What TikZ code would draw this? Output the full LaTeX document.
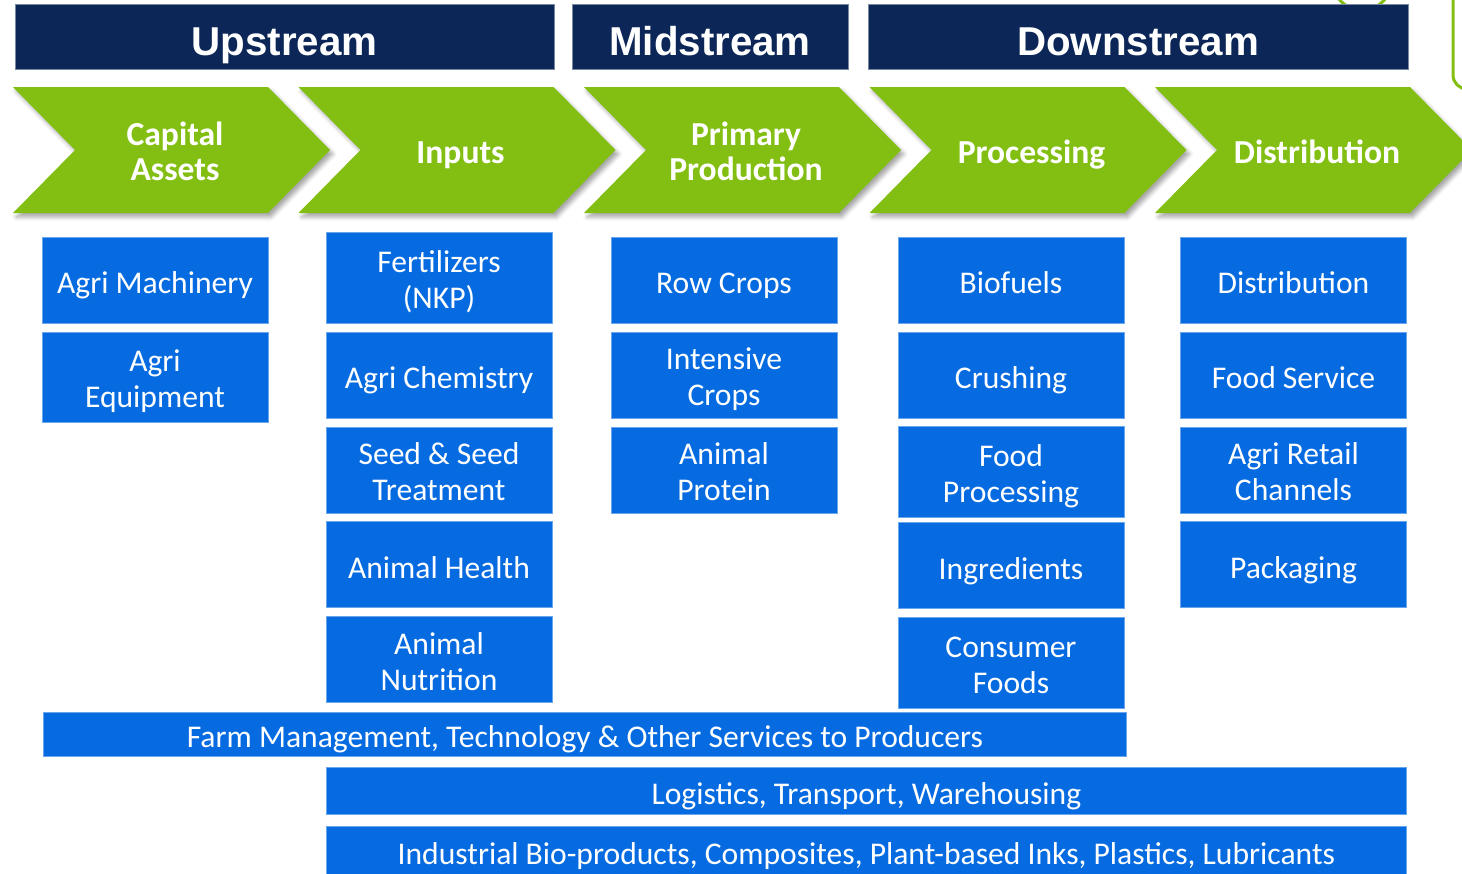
\documentclass[tikz,border=0pt]{standalone}
\usepackage{fontspec}
\setmainfont{Carlito}
\newfontfamily\headfont{Liberation Sans}
\usetikzlibrary{positioning,shadows.blur}

\definecolor{navy}{HTML}{0C2657}
\definecolor{leaf}{HTML}{82BF12}
\definecolor{boxblue}{HTML}{066BE1}
\definecolor{boxedge}{HTML}{6AA6EE}

% fixed line heights, so every box sets its text the same way
\newcommand\itemstrut{\rule[-8pt]{0pt}{42.5pt}}
\newcommand\chevstrut{\rule[-10pt]{0pt}{47.5pt}}
\newcommand\stagestrut{\rule[-10pt]{0pt}{57pt}}
% two-line labels
\newcommand\pairtext[2]{\begin{tabular}{@{}c@{}}\rule{0pt}{35.8pt}#1\\#2\end{tabular}}
\newcommand\chevtext[2]{\begin{tabular}{@{}c@{}}\rule{0pt}{37pt}#1\\#2\end{tabular}}

\tikzset{
  stage/.style={fill=navy, draw=navy!55!white, line width=0.8pt, text=white,
    font=\headfont\bfseries\fontsize{40.3}{44}\selectfont, minimum height=65pt, inner sep=0pt,
    execute at begin node=\stagestrut},
  chev/.style={fill=leaf, blur shadow={shadow xshift=3pt, shadow yshift=-4pt,
    shadow blur radius=4pt, shadow opacity=35}},
  chevlabel/.style={text=white, font=\bfseries\fontsize{33.6}{35}\selectfont, inner sep=0pt,
    execute at begin node=\chevstrut},
  item/.style={fill=boxblue, draw=boxedge, line width=0.8pt, text=white,
    font=\fontsize{31.6}{36}\selectfont,
    minimum width=226pt, minimum height=86pt, inner sep=0pt,
    execute at begin node=\itemstrut},
  bar/.style={item, minimum width=0pt}
}

\begin{document}
\begin{tikzpicture}[x=1pt,y=-1pt,node distance=8pt]
  \clip (0,0) rectangle (1462,873);

  % bits of green outline cut off at the top right
  \draw[leaf, line width=3pt] (1362,-20) circle (30pt);
  \draw[leaf, line width=3pt, rounded corners=14pt] (1453,-30) rectangle (1530,89);

  % stream headers
  \node[stage, minimum width=539pt] (up)   at (284.5,36.5) {Upstream};
  \node[stage, minimum width=276pt] (mid)  at (710,36.5)   {Midstream};
  \node[stage, minimum width=540pt] (down) at (1138,36.5)  {Downstream};

  % value chain chevrons
  \foreach \lbl [count=\i from 0] in {{\chevtext{Capital}{Assets}},Inputs,
      {\chevtext{Primary}{Production}},Processing,Distribution}{
    \pgfmathsetmacro\x{13+285.5*\i}
    \fill[chev] (\x,87) -- ++(255,0) -- ++(62,63) -- ++(-62,63) -- ++(-255,0) -- ++(62,-63) -- cycle;
    \node[chevlabel] (chev\i) at (\x+162,150) {\lbl};
  }

  % capital assets
  \node[item, anchor=north] (mach) at (155,237) {Agri Machinery};
  \node[item, below=of mach, minimum height=90pt] (equip) {\pairtext{Agri}{Equipment}};

  % inputs
  \node[item, anchor=north, minimum height=91pt] (fert) at (439,232) {\pairtext{Fertilizers}{(NKP)}};
  \node[item, below=of fert] (chem)   {Agri Chemistry};
  \node[item, below=of chem] (seed)   {\pairtext{Seed \& Seed}{Treatment}};
  \node[item, below=of seed] (health) {Animal Health};
  \node[item, below=of health] (nutr) {\pairtext{Animal}{Nutrition}};

  % primary production
  \node[item, anchor=north] (row) at (724,237) {Row Crops};
  \node[item, below=of row] (intens)  {\pairtext{Intensive}{Crops}};
  \node[item, below=of intens] (prot) {\pairtext{Animal}{Protein}};

  % processing
  \node[item, anchor=north] (bio) at (1011,237) {Biofuels};
  \node[item, below=of bio] (crush) {Crushing};
  \node[item, below=7pt of crush, minimum height=91pt] (foodproc) {\pairtext{Food}{Processing}};
  \node[item, below=5pt of foodproc] (ingr) {Ingredients};
  \node[item, below=of ingr, minimum height=91pt] (cons) {\pairtext{Consumer}{Foods}};

  % distribution
  \node[item, anchor=north] (dist) at (1293.5,237) {Distribution};
  \node[item, below=of dist] (serv)   {Food Service};
  \node[item, below=of serv] (retail) {\pairtext{Agri Retail}{Channels}};
  \node[item, below=of retail] (pack) {Packaging};

  % services across the chain
  \node[bar, anchor=north west, minimum width=1083pt, minimum height=44pt] (farm) at (43,712)
    {Farm Management, Technology \& Other Services to Producers};
  \node[bar, anchor=north west, minimum width=1080pt, minimum height=47pt] (logi) at (326,767)
    {Logistics, Transport, Warehousing};
  \node[bar, anchor=north west, minimum width=1080pt, minimum height=50pt] (indus) at (326,826)
    {Industrial Bio-products, Composites, Plant-based Inks, Plastics, Lubricants};
\end{tikzpicture}
\end{document}
